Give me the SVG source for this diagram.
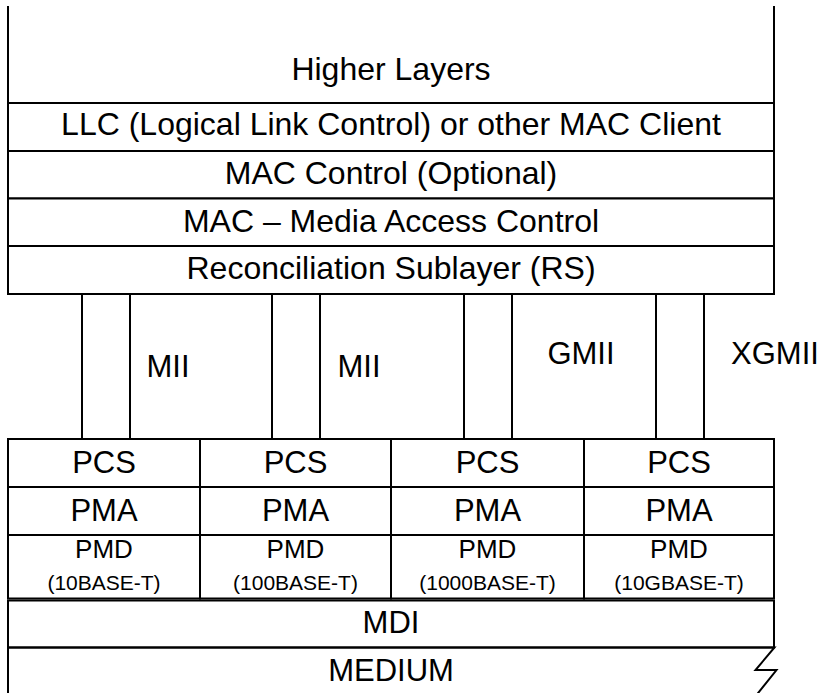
<svg xmlns="http://www.w3.org/2000/svg" width="823" height="693" viewBox="0 0 823 693">
<style>
  .ln { stroke: #000; stroke-width: 2; fill: none; }
  .bx { stroke: #000; stroke-width: 2; fill: #fff; }
  text { font-family: "Liberation Sans", Arial, sans-serif; fill: #000; text-anchor: middle; }
  .top { font-size: 32px; }
  .big { font-size: 31px; }
  .pmd { font-size: 26px; }
  .sm { font-size: 21px; }
</style>
<rect x="0" y="0" width="823" height="693" fill="#fff"/>

<g id="higher-layers">
  <path class="ln" d="M8,6 V103 H774 V6"/>
  <text class="top" x="391" y="80">Higher Layers</text>
</g>
<g id="llc">
  <rect class="bx" x="8" y="103" width="766" height="48"/>
  <text class="top" x="391" y="135">LLC (Logical Link Control) or other MAC Client</text>
</g>
<g id="mac-control">
  <rect class="bx" x="8" y="151" width="766" height="47.5"/>
  <text class="top" x="391" y="184">MAC Control (Optional)</text>
</g>
<g id="mac">
  <rect class="bx" x="8" y="198.5" width="766" height="47.5"/>
  <text class="top" x="391" y="231.5">MAC – Media Access Control</text>
</g>
<g id="rs">
  <rect class="bx" x="8" y="246" width="766" height="48"/>
  <text class="top" x="391" y="279">Reconciliation Sublayer (RS)</text>
</g>

<g id="connectors">
  <line class="ln" x1="82" y1="294" x2="82" y2="439"/>
  <line class="ln" x1="130" y1="294" x2="130" y2="439"/>
  <line class="ln" x1="272" y1="294" x2="272" y2="439"/>
  <line class="ln" x1="320" y1="294" x2="320" y2="439"/>
  <line class="ln" x1="464" y1="294" x2="464" y2="439"/>
  <line class="ln" x1="512" y1="294" x2="512" y2="439"/>
  <line class="ln" x1="656" y1="294" x2="656" y2="439"/>
  <line class="ln" x1="704" y1="294" x2="704" y2="439"/>
</g>

<g id="label-mii-1"><text class="big" x="168" y="377">MII</text></g>
<g id="label-mii-2"><text class="big" x="359" y="377">MII</text></g>
<g id="label-gmii"><text class="big" x="581" y="364">GMII</text></g>
<g id="label-xgmii"><text class="big" x="775" y="364">XGMII</text></g>

<g id="phy-10base-t">
  <rect class="bx" x="8" y="439" width="192" height="48"/>
  <rect class="bx" x="8" y="487" width="192" height="48"/>
  <rect class="bx" x="8" y="535" width="192" height="63.5"/>
  <text class="big" x="104" y="473">PCS</text>
  <text class="big" x="104" y="521">PMA</text>
  <text class="pmd" x="104" y="558">PMD</text>
  <text class="sm" x="104" y="590">(10BASE-T)</text>
</g>
<g id="phy-100base-t">
  <rect class="bx" x="200" y="439" width="191" height="48"/>
  <rect class="bx" x="200" y="487" width="191" height="48"/>
  <rect class="bx" x="200" y="535" width="191" height="63.5"/>
  <text class="big" x="295.5" y="473">PCS</text>
  <text class="big" x="295.5" y="521">PMA</text>
  <text class="pmd" x="295.5" y="558">PMD</text>
  <text class="sm" x="295.5" y="590">(100BASE-T)</text>
</g>
<g id="phy-1000base-t">
  <rect class="bx" x="391" y="439" width="193" height="48"/>
  <rect class="bx" x="391" y="487" width="193" height="48"/>
  <rect class="bx" x="391" y="535" width="193" height="63.5"/>
  <text class="big" x="487.5" y="473">PCS</text>
  <text class="big" x="487.5" y="521">PMA</text>
  <text class="pmd" x="487.5" y="558">PMD</text>
  <text class="sm" x="487.5" y="590">(1000BASE-T)</text>
</g>
<g id="phy-10gbase-t">
  <rect class="bx" x="584" y="439" width="190" height="48"/>
  <rect class="bx" x="584" y="487" width="190" height="48"/>
  <rect class="bx" x="584" y="535" width="190" height="63.5"/>
  <text class="big" x="679" y="473">PCS</text>
  <text class="big" x="679" y="521">PMA</text>
  <text class="pmd" x="679" y="558">PMD</text>
  <text class="sm" x="679" y="590">(10GBASE-T)</text>
</g>

<g id="mdi">
  <rect class="bx" x="8" y="600.5" width="766" height="47"/>
  <text class="big" x="391" y="633">MDI</text>
</g>
<g id="medium">
  <path class="ln" d="M8,647.5 V695 M8,647.5 H774.5 L755.5,670 H776.5 L756.5,695"/>
  <text class="big" x="391" y="681">MEDIUM</text>
</g>
</svg>
